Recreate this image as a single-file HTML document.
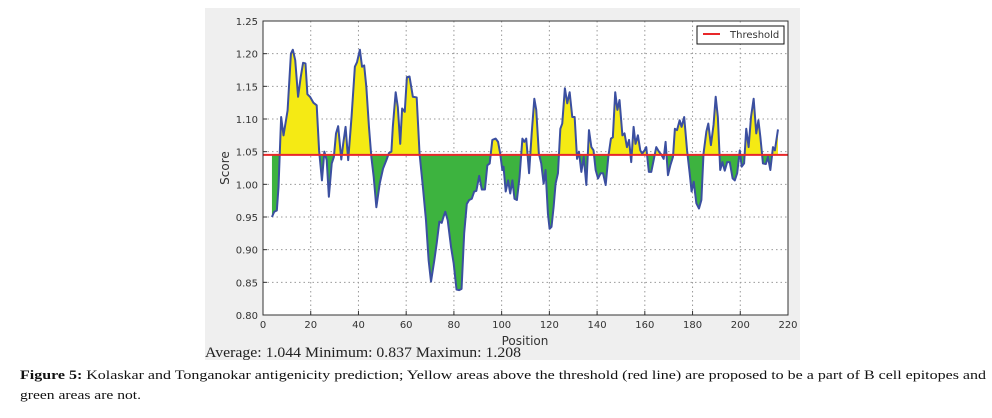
<!DOCTYPE html>
<html><head><meta charset="utf-8"><style>
html,body{margin:0;padding:0;background:#fff;width:992px;height:418px;overflow:hidden}
svg{display:block}
.tick{font-family:"DejaVu Sans","Liberation Sans",sans-serif;font-size:10px;fill:#333}
</style></head><body>
<svg id="chart" width="992" height="418" viewBox="0 0 992 418">
<rect x="205" y="8" width="595" height="352" fill="#efefef"/>
<rect x="263" y="21" width="525" height="294" fill="#fff"/>
<g id="grid"></g>
<g id="marks"></g>
<rect x="263" y="21" width="525" height="294" fill="none" stroke="#333" stroke-width="1"/>
<g id="axes"></g>
<text x="229" y="168" transform="rotate(-90 229 168)" text-anchor="middle" class="tick" style="font-size:12px">Score</text>
<text x="525" y="345" text-anchor="middle" class="tick" style="font-size:12px">Position</text>
<g>
<rect x="697" y="26" width="87" height="18" fill="#fff" stroke="#111" stroke-width="1"/>
<line x1="703" y1="34" x2="720" y2="34" stroke="#e8282a" stroke-width="2"/>
<text x="730" y="38" class="tick">Threshold</text>
</g>
<text x="205" y="357" font-family="Liberation Serif,serif" font-size="15" fill="#222" textLength="316" lengthAdjust="spacingAndGlyphs">Average: 1.044 Minimum: 0.837  Maximun: 1.208</text>
<text x="20" y="379" font-family="Liberation Serif,serif" font-size="13" fill="#111" textLength="966" lengthAdjust="spacingAndGlyphs"><tspan font-weight="bold">Figure 5:</tspan> Kolaskar and Tonganokar antigenicity prediction; Yellow areas above the threshold (red line) are proposed to be a part of B cell epitopes and</text>
<text x="20" y="399" font-family="Liberation Serif,serif" font-size="13" fill="#111" textLength="121" lengthAdjust="spacingAndGlyphs">green areas are not.</text>
</svg>
<script>
const positions=[3.75,4.7,5.8,6.5,7.6,8.6,10.3,11.7,12.5,13.5,14.7,15.8,16.8,17.8,18.6,19.7,21.1,22.5,23.5,24.7,25.7,26.7,27.6,28.8,29.7,30.6,31.5,32.8,33.6,34.6,35.7,37.1,38.5,39.4,40.6,41.5,42.4,43.3,44.4,45.4,46.4,47.5,48.9,50.3,51.7,52.8,53.8,54.4,55.6,56.5,57.5,58.3,59.4,60.3,61.4,62.8,64.4,65.6,67,68.3,69.4,70.4,71.8,72.8,73.9,74.9,75.6,76.4,77.4,78.8,79.9,81.1,82.2,83.2,84.3,85.4,86.4,87.5,88.5,89.4,90.6,91.7,93,94,95,96.1,97.5,98.5,99.4,100.3,100.8,101.7,102.7,103.6,104.5,105.4,106.4,107.5,108.7,109.5,110.3,111.5,112.6,113.7,114.5,115.6,116.6,117.6,118.4,119.4,120.1,120.9,121.8,122.6,123.6,124.6,125.4,126.5,127.5,128.5,129.6,130.6,131.6,132.4,133.4,134.4,135.5,136.6,137.6,138.5,139.4,140.4,141.5,142.5,143.6,144.7,145.8,146.6,147.6,148.5,149.4,150.6,151.5,152.5,153.4,154.3,155.3,156.1,157.1,158.1,158.9,159.9,160.6,161.7,162.7,163.7,164.8,165.9,167,167.9,168.7,169.7,170.7,171.8,172.6,173.5,174.6,175.4,176.5,177.7,178.8,179.6,180.5,181.6,182.7,183.7,184.6,185.8,186.6,187.7,188.8,189.7,190.6,191.6,192.5,193.5,194.5,195.6,196.8,197.7,198.7,199.8,200.6,201.6,202.5,203.5,204.5,205.6,206.7,207.6,208.4,209.5,210.7,211.6,212.6,213.7,214.5,215.8];
const scores=[0.95,0.958,0.96,0.996,1.103,1.075,1.113,1.2,1.206,1.19,1.134,1.164,1.186,1.185,1.138,1.134,1.125,1.121,1.052,1.006,1.05,1.037,0.981,1.032,1.042,1.078,1.089,1.038,1.062,1.088,1.037,1.103,1.18,1.187,1.206,1.18,1.182,1.149,1.088,1.042,1.011,0.965,1.001,1.024,1.037,1.048,1.05,1.088,1.141,1.118,1.062,1.116,1.111,1.164,1.165,1.134,1.133,1.047,0.996,0.945,0.884,0.851,0.884,0.91,0.943,0.941,0.95,0.958,0.945,0.904,0.879,0.839,0.838,0.84,0.925,0.97,0.976,0.978,0.989,0.99,1.013,0.992,0.992,1.029,1.032,1.068,1.07,1.065,1.047,1.022,1.027,0.989,1.006,0.986,1.006,0.978,0.976,1.011,1.07,1.065,1.07,1.017,1.078,1.131,1.114,1.047,1.032,1.001,1.022,0.955,0.932,0.935,0.966,1.001,1.017,1.085,1.093,1.147,1.124,1.141,1.103,1.103,1.039,1.05,1.019,1.042,0.999,1.083,1.057,1.052,1.022,1.009,1.017,1.017,0.999,1.042,1.07,1.072,1.141,1.114,1.129,1.075,1.078,1.057,1.068,1.034,1.088,1.062,1.075,1.052,1.047,1.052,1.057,1.019,1.019,1.037,1.057,1.05,1.045,1.039,1.065,1.014,1.029,1.042,1.085,1.083,1.098,1.088,1.103,1.052,1.017,0.989,1.004,0.971,0.963,0.976,1.047,1.081,1.093,1.06,1.091,1.134,1.103,1.022,1.034,1.021,1.034,1.034,1.009,1.006,1.017,1.052,1.027,1.032,1.085,1.057,1.103,1.131,1.078,1.098,1.073,1.032,1.031,1.042,1.022,1.057,1.052,1.084];
const threshold=1.045;
const xTicks=[0,20,40,60,80,100,120,140,160,180,200,220];
const yTicks=[0.80,0.85,0.90,0.95,1.00,1.05,1.10,1.15,1.20,1.25];
const yTickLabels=["0.80","0.85","0.90","0.95","1.00","1.05","1.10","1.15","1.20","1.25"];

const L=263,R=788,T=21,B=315,X0=0,X1=220,Y0=0.80,Y1=1.25;
const sx=v=>L+(v-X0)/(X1-X0)*(R-L);
const sy=v=>B-(v-Y0)/(Y1-Y0)*(B-T);
const NS='http://www.w3.org/2000/svg';
function mk(tag,attrs,parent){const e=document.createElementNS(NS,tag);for(const k in attrs)e.setAttribute(k,attrs[k]);parent.appendChild(e);return e;}
const grid=document.getElementById('grid'),axes=document.getElementById('axes'),marks=document.getElementById('marks'),svg=document.getElementById('chart');

xTicks.forEach((t,i)=>{
  const x=sx(t);
  if(i>0&&i<xTicks.length-1){const g=mk('line',{x1:x,x2:x,y1:T,y2:B,stroke:'#999','stroke-dasharray':'1.5,3','stroke-width':1},grid);
  
  }
  const tk=mk('line',{x1:x,x2:x,y1:B,y2:B-4,stroke:'#333'},axes);
  
  
  const lb=mk('text',{x:x,y:B+13,'text-anchor':'middle','class':'tick'},axes);
  lb.textContent=String(t);
  
  
});
yTicks.forEach((t,i)=>{
  const y=sy(t);
  if(i>0&&i<yTicks.length-1){const g=mk('line',{x1:L,x2:R,y1:y,y2:y,stroke:'#999','stroke-dasharray':'1.5,3','stroke-width':1},grid);
  
  }
  const tk=mk('line',{x1:L,x2:L+4,y1:y,y2:y,stroke:'#333'},axes);
  
  
  const lb=mk('text',{x:L-5,y:y+4,'text-anchor':'end','class':'tick'},axes);
  lb.textContent=yTickLabels[i];
  
  
});

const defs=mk('defs',{},svg);
const ty=sy(threshold);
const c1=mk('clipPath',{id:'above'},defs);mk('rect',{x:L,y:T,width:R-L,height:ty-T},c1);
const c2=mk('clipPath',{id:'below'},defs);mk('rect',{x:L,y:ty,width:R-L,height:B-ty},c2);
let line='';positions.forEach((p,i)=>{line+=(i?'L':'M')+sx(p).toFixed(2)+','+sy(scores[i]).toFixed(2);});
const area=line+'L'+sx(positions[positions.length-1]).toFixed(2)+','+ty+'L'+sx(positions[0]).toFixed(2)+','+ty+'Z';
const ya=mk('path',{d:area,fill:'#f5ea14','clip-path':'url(#above)'},marks);


const ga=mk('path',{d:area,fill:'#3db33f','clip-path':'url(#below)'},marks);


const sl=mk('path',{d:line,fill:'none',stroke:'#3b4fa0','stroke-width':2,'stroke-linejoin':'round'},marks);


const th=mk('line',{x1:L,x2:R,y1:ty,y2:ty,stroke:'#e8282a','stroke-width':2},marks);


</script>
</body></html>
